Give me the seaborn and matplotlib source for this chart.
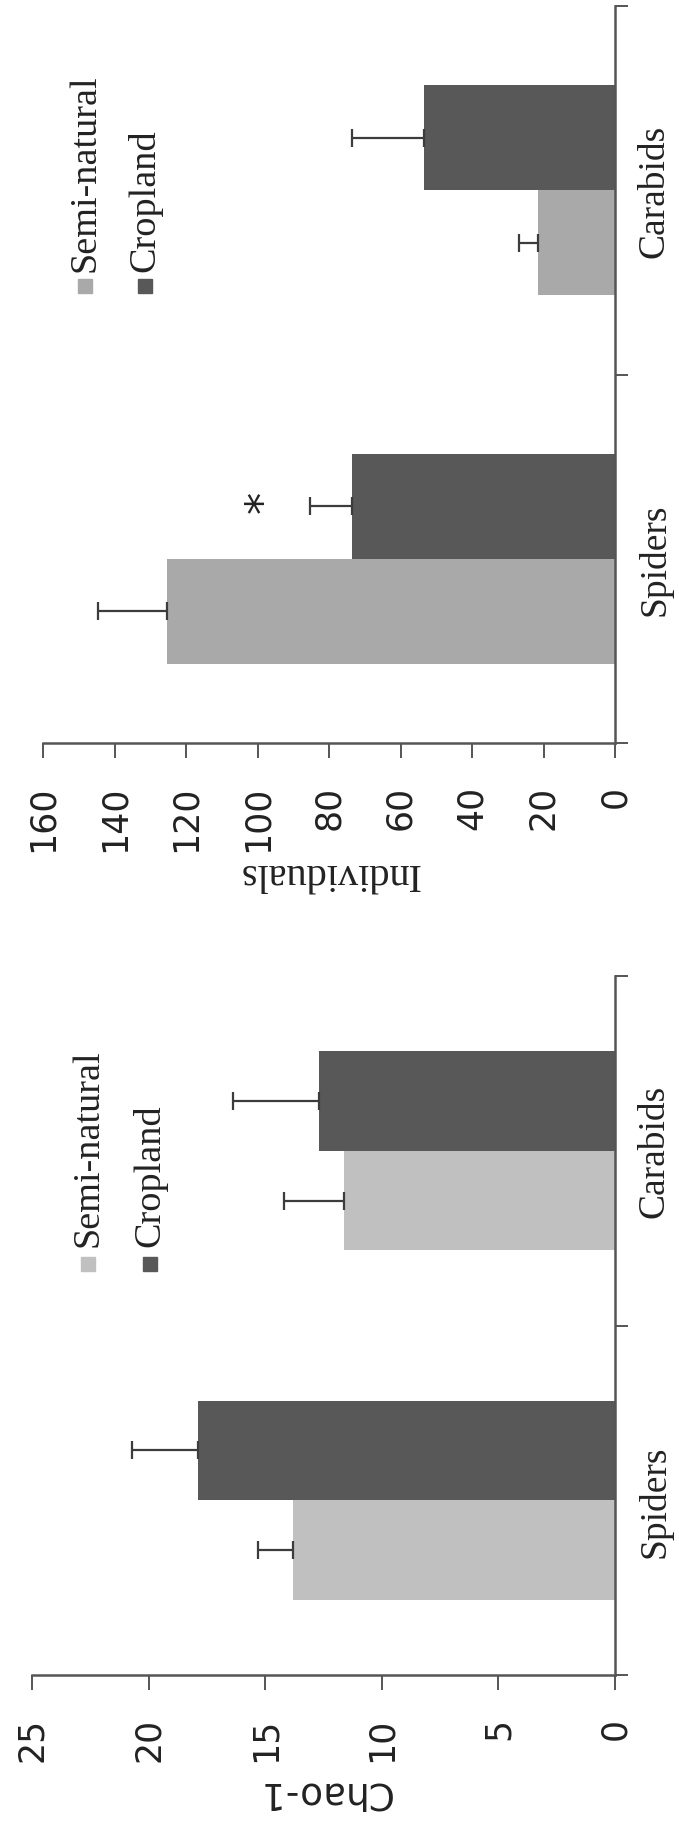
import matplotlib
matplotlib.use('Agg')
import matplotlib.pyplot as plt
import seaborn as sns
import pandas as pd

# ---------------- data ----------------
taxa = ['Spiders', 'Carabids']
habitats = ['Semi-natural', 'Cropland']

chao_semi = [13.8, 11.6]
chao_semi_err = [1.5, 2.6]
chao_crop = [17.9, 12.7]
chao_crop_err = [2.8, 3.7]

ind_semi = [125.4, 21.6]
ind_semi_err = [19.3, 5.2]
ind_crop = [73.5, 53.4]
ind_crop_err = [11.7, 20.1]

chao_ticks = [0, 5, 10, 15, 20, 25]
ind_ticks = [0, 20, 40, 60, 80, 100, 120, 140, 160]

# ---------------- style ----------------
sns.set_style('white')
plt.rcParams['font.family'] = ['DejaVu Sans']

SERIF = ['Liberation Serif', 'DejaVu Serif']
SANS = ['DejaVu Sans']
DARK = '#585858'
AXC = '#555555'
ERRC = '#3c3c3c'

W, H = 679, 1831
fig = plt.figure(figsize=(W / 100, H / 100), dpi=100)


def make_axes(x0, x1, y0, y1):
    return fig.add_axes([x0 / W, 1 - y1 / H, (x1 - x0) / W, (y1 - y0) / H])


def panel(ax, semi, semi_err, crop, crop_err, light, xmax, ticks, label,
          label_family, label_size, label_pad, leg_pos):
    df = pd.DataFrame({
        'taxon': taxa * 2,
        'habitat': [habitats[0]] * len(taxa) + [habitats[1]] * len(taxa),
        'value': semi + crop,
    })
    sns.barplot(data=df, x='value', y='taxon', hue='habitat', order=taxa,
                hue_order=habitats, orient='h', palette=[light, DARK],
                width=0.57, saturation=1, errorbar=None, legend=False,
                ax=ax, edgecolor='none', linewidth=0)
    vals = [semi, crop]
    errs = [semi_err, crop_err]
    bar_conts = list(ax.containers)
    for k, cont in enumerate(bar_conts):
        for i, bar in enumerate(cont):
            yc = bar.get_y() + bar.get_height() / 2
            ax.errorbar(vals[k][i], yc, xerr=[[0], [errs[k][i]]], fmt='none',
                        ecolor=ERRC, elinewidth=1.6, capsize=6.5,
                        capthick=1.6, zorder=3)

    ax.set_xlim(xmax, 0)
    ax.set_ylim(-0.5, len(taxa) - 0.5)

    ax.set_xticks(ticks)
    ax.set_xticklabels([str(t) for t in ticks], rotation=90, fontsize=25,
                       family=SANS, color='#222222')
    ax.tick_params(axis='x', direction='out', length=11, width=1.4, pad=19,
                   color=AXC, bottom=True)

    ax.yaxis.tick_right()
    ax.set_yticks([i - 0.5 for i in range(len(taxa) + 1)])
    ax.set_yticklabels([])
    ax.set_yticks(list(range(len(taxa))), minor=True)
    ax.set_yticklabels(taxa, minor=True, rotation=90, va='center',
                       fontsize=27, family=SERIF, color='#222222')
    ax.tick_params(axis='y', which='major', right=True, left=False,
                   length=9, width=1.4, direction='out', color=AXC)
    ax.tick_params(axis='y', which='minor', right=True, left=False,
                   length=0, pad=16, labelright=True, labelleft=False)

    for s in ['left', 'top']:
        ax.spines[s].set_visible(False)
    for s in ['right', 'bottom']:
        ax.spines[s].set_visible(True)
        ax.spines[s].set_color(AXC)
        ax.spines[s].set_linewidth(1.8)

    ax.set_ylabel('')
    ax.set_xlabel(label, rotation=180, fontsize=label_size,
                  family=label_family, labelpad=label_pad, color='#222222')

    # rotated legend drawn by hand
    (lx1, lx2, ly_marker, ly_text) = leg_pos
    for lx, col, name in [(lx1, light, habitats[0]), (lx2, DARK, habitats[1])]:
        ax.plot([lx], [ly_marker], marker='s', markersize=9.5, color=col,
                transform=ax.transAxes, clip_on=False, linestyle='none')
        ax.text(lx, ly_text, name, rotation=90, ha='center', va='bottom',
                fontsize=27.5, family=SERIF, transform=ax.transAxes,
                color='#222222')
    return bar_conts


# top panel: Individuals
ax_top = make_axes(43, 615, 7, 744)
top_bars = panel(ax_top, ind_semi, ind_semi_err, ind_crop, ind_crop_err,
                 '#a9a9a9', 160, ind_ticks, 'Individuals', SERIF, 29, 2,
                 (0.0734, 0.178, 0.620, 0.640))
sp_crop_bar = top_bars[1][0]
ax_top.text(ind_crop[0] + ind_crop_err[0] + 13,
            sp_crop_bar.get_y() + sp_crop_bar.get_height() / 2 + 0.015, '*',
            rotation=90, ha='center', va='center', fontsize=32,
            family=SANS, color='#222222')

# bottom panel: Chao-1
ax_bot = make_axes(32, 615, 977, 1676)
panel(ax_bot, chao_semi, chao_semi_err, chao_crop, chao_crop_err, '#c0c0c0',
      25, chao_ticks, 'Chao-1', SANS, 27, 9, (0.096, 0.2024, 0.588, 0.614))

fig.savefig('out.png', dpi=100)
